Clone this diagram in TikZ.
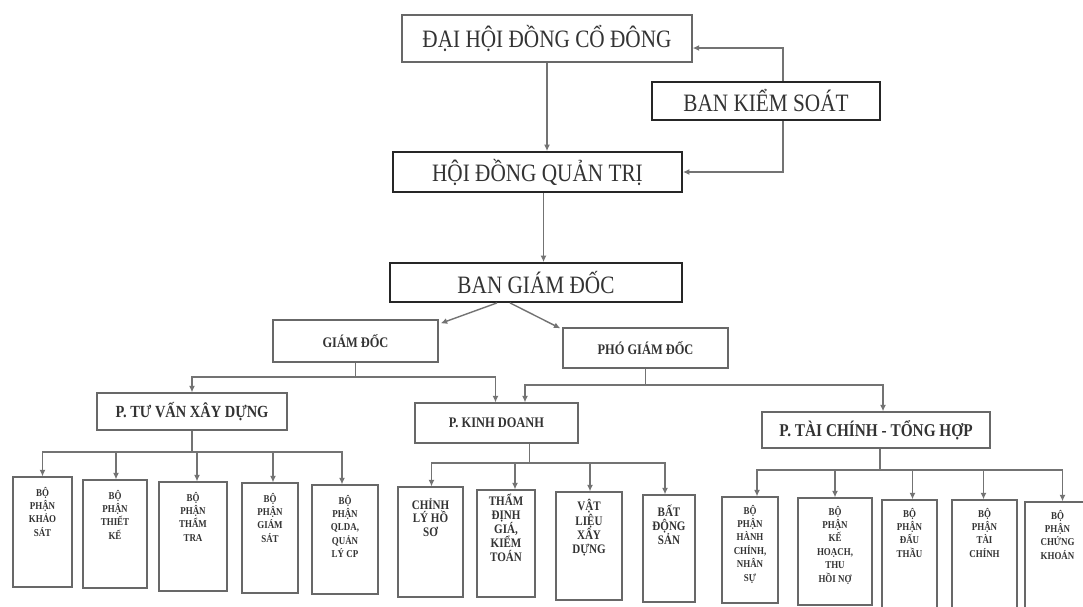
\documentclass[tikz,border=0pt]{standalone}
\usepackage{fontspec}
\setmainfont[FakeStretch=0.85]{Liberation Serif}
\usetikzlibrary{arrows.meta}
\definecolor{conncol}{HTML}{737373}
\definecolor{boxcol}{HTML}{686868}
\definecolor{txt}{HTML}{333333}
\newcommand{\sbx}[4]{\parbox[c][#2pt][t]{#1pt}{\centering\vspace*{#3pt}#4\par}}
\begin{document}
\begin{tikzpicture}[x=1pt,y=-1pt,
  box/.style={draw=boxcol, line width=1.3pt, fill=white, inner sep=0pt, text=txt, font=\bfseries},
  topbox/.style={box, font=\fontsize{25}{28}\selectfont},
  bigbox/.style={topbox, draw=black!85, line width=1.8pt},
  sbox/.style={box},
  conn/.style={draw=conncol, line width=1.4pt},
  arr/.style={conn, -{Latex[length=6.5pt,width=6pt]}},
  fl/.style={font=\bfseries\fontsize{10.5}{13.3}\selectfont},
  fm/.style={font=\bfseries\fontsize{13}{13.6}\selectfont},
  fr/.style={font=\bfseries\fontsize{10.5}{13.4}\selectfont}]
\useasboundingbox (0,0) rectangle (1083,606);
\fill[white] (0,0) rectangle (1083,606);

% top levels
\node[topbox, minimum width=290pt, minimum height=47pt] (dh) at (547,38.5) {ĐẠI HỘI ĐỒNG CỔ ĐÔNG};
\node[bigbox, minimum width=289pt, minimum height=40pt] (hd) at (537.5,172) {HỘI ĐỒNG QUẢN TRỊ};
\node[bigbox, minimum width=292pt, minimum height=39pt] (bgd) at (536,282.5) {BAN GIÁM ĐỐC};
\node[bigbox, minimum width=228pt, minimum height=38pt] (bks) at (766,101) {BAN KIỂM SOÁT};

\coordinate (vx) at (783,0);
\draw[arr] (bks.north -| vx) |- ([yshift=-9.5pt]dh.east);
\draw[arr] (bks.south -| vx) |- (hd.east);

\draw[arr] (dh.south) -- (dh.south |- hd.north);
\draw[arr] ([xshift=6pt]hd.south) -- ([xshift=6pt]hd.south |- bgd.north);

% directors
\node[box, font=\bfseries\fontsize{14.6}{16}\selectfont, minimum width=165pt, minimum height=42pt] (gd) at (355.5,341) {GIÁM ĐỐC};
\node[box, font=\bfseries\fontsize{14.6}{16}\selectfont, minimum width=165pt, minimum height=40pt] (pgd) at (645.5,348) {PHÓ GIÁM ĐỐC};
\draw[arr] ([xshift=-39pt]bgd.south) -- ([xshift=2pt,yshift=-4pt]gd.north east);
\draw[arr] ([xshift=-26pt]bgd.south) -- ([xshift=-2pt,yshift=-1pt]pgd.north west);

% departments
\node[box, font=\bfseries\fontsize{17}{19}\selectfont, minimum width=190pt, minimum height=37pt] (tv) at (192,411.5) {P. TƯ VẤN XÂY DỰNG};
\node[box, font=\bfseries\fontsize{14.6}{16}\selectfont, minimum width=163pt, minimum height=40pt] (kd) at (496.5,423) {P. KINH DOANH};
\node[box, font=\bfseries\fontsize{18}{20}\selectfont, minimum width=228pt, minimum height=36pt] (tc) at (876,430) {P. TÀI CHÍNH - TỔNG HỢP};

\coordinate (b1) at (0,377);
\coordinate (b2) at (0,385);
\draw[arr] (gd.south) -- (gd.south |- b1) -| (tv.north);
\draw[arr] (gd.south) -- (gd.south |- b1) -| ([xshift=-1pt]kd.north);
\draw[arr] (pgd.south) -- (pgd.south |- b2) -| ([xshift=28.5pt]kd.north);
\draw[arr] (pgd.south) -- (pgd.south |- b2) -| ([xshift=7pt]tc.north);

% left group
\node[sbox, fl] (l1) at (42.5,532) {\sbx{59}{110}{10}{BỘ\\PHẬN\\KHẢO\\SÁT}};
\node[sbox, fl] (l2) at (115,534) {\sbx{64}{108}{10}{BỘ\\PHẬN\\THIẾT\\KẾ}};
\node[sbox, fl] (l3) at (193,536.5) {\sbx{68}{109}{10}{BỘ\\PHẬN\\THẨM\\TRA}};
\node[sbox, fl] (l4) at (270,538) {\sbx{56}{110}{10}{BỘ\\PHẬN\\GIÁM\\SÁT}};
\node[sbox, fl] (l5) at (345,539.5) {\sbx{66}{109}{10}{BỘ\\PHẬN\\QLDA,\\QUẢN\\LÝ CP}};
\coordinate (c1) at (0,452);
\draw[arr] (tv.south) -- (tv.south |- c1) -| (l1.north);
\draw[arr] (tv.south) -- (tv.south |- c1) -| ([xshift=1pt]l2.north);
\draw[arr] (tv.south) -- (tv.south |- c1) -| ([xshift=4pt]l3.north);
\draw[arr] (tv.south) -- (tv.south |- c1) -| ([xshift=3pt]l4.north);
\draw[arr] (tv.south) -- (tv.south |- c1) -| ([xshift=-3pt]l5.north);

% middle group
\node[sbox, fm] (m1) at (430.5,542) {\sbx{65}{110}{11}{CHỈNH\\LÝ HỒ\\SƠ}};
\node[sbox, fm] (m2) at (506,543.5) {\sbx{58}{107}{4}{THẨM\\ĐỊNH\\GIÁ,\\KIỂM\\TOÁN}};
\node[sbox, fm] (m3) at (589,546) {\sbx{66}{108}{7}{VẬT\\LIỆU\\XÂY\\DỰNG}};
\node[sbox, fm] (m4) at (669,548.5) {\sbx{52}{107}{10}{BẤT\\ĐỘNG\\SẢN}};
\coordinate (c2) at (0,463);
\draw[arr] ([xshift=33pt]kd.south) -- ([xshift=33pt]kd.south |- c2) -| ([xshift=1pt]m1.north);
\draw[arr] ([xshift=33pt]kd.south) -- ([xshift=33pt]kd.south |- c2) -| ([xshift=9pt]m2.north);
\draw[arr] ([xshift=33pt]kd.south) -- ([xshift=33pt]kd.south |- c2) -| ([xshift=1pt]m3.north);
\draw[arr] ([xshift=33pt]kd.south) -- ([xshift=33pt]kd.south |- c2) -| ([xshift=-4pt]m4.north);

% right group
\node[sbox, fr] (r1) at (750,550) {\sbx{56}{106}{8}{BỘ\\PHẬN\\HÀNH\\CHÍNH,\\NHÂN\\SỰ}};
\node[sbox, fr] (r2) at (835,551.5) {\sbx{74}{107}{8}{BỘ\\PHẬN\\KẾ\\HOẠCH,\\THU\\HỒI NỢ}};
\node[sbox, fr] (r3) at (909.5,556) {\sbx{55}{112}{8}{BỘ\\PHẬN\\ĐẤU\\THẦU}};
\node[sbox, fr] (r4) at (984.5,556) {\sbx{65}{112}{8}{BỘ\\PHẬN\\TÀI\\CHÍNH}};
\node[sbox, fr] (r5) at (1057.5,557) {\sbx{65}{110}{8}{BỘ\\PHẬN\\CHỨNG\\KHOÁN}};
\coordinate (c3) at (0,470);
\draw[arr] ([xshift=4pt]tc.south) -- ([xshift=4pt]tc.south |- c3) -| ([xshift=7pt]r1.north);
\draw[arr] ([xshift=4pt]tc.south) -- ([xshift=4pt]tc.south |- c3) -| (r2.north);
\draw[arr] ([xshift=4pt]tc.south) -- ([xshift=4pt]tc.south |- c3) -| ([xshift=3pt]r3.north);
\draw[arr] ([xshift=4pt]tc.south) -- ([xshift=4pt]tc.south |- c3) -| ([xshift=-1pt]r4.north);
\draw[arr] ([xshift=4pt]tc.south) -- ([xshift=4pt]tc.south |- c3) -| ([xshift=5pt]r5.north);
\end{tikzpicture}
\end{document}
